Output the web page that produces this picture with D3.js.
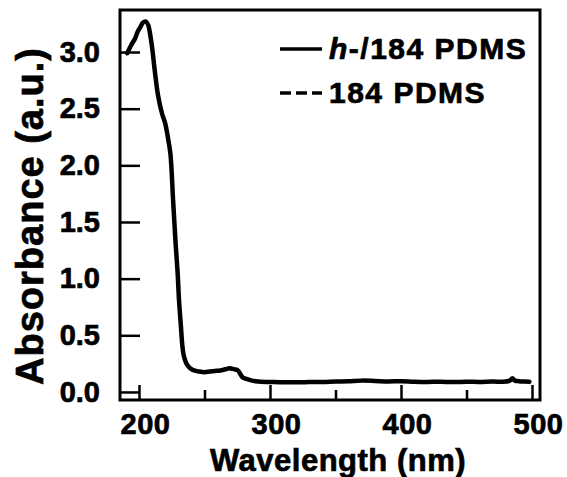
<!DOCTYPE html>
<html>
<head>
<meta charset="utf-8">
<script src="https://cdn.jsdelivr.net/npm/d3@7"></script>
<style>
html,body{margin:0;padding:0;background:#fff;}
svg{display:block;}
text{font-family:"Liberation Sans",Arial,Helvetica,sans-serif;font-weight:bold;fill:#000;stroke:#000;stroke-width:0.7px;}
</style>
</head>
<body>
<svg id="chart" width="567" height="477"></svg>
<script>
// Data (wavelength nm, absorbance a.u.)
const wavelength = [191,194,197,199,201,203,205,207,208,210,212,214.5,217.5,220,222,224,226,228,229.5,230.5,232,233,234,235.5,237,239,242,246,250,254,258,262,266,269,271,273,275.5,277,279,282,285,289,293,300,310,320,330,340,350,360,370,380,390,400,410,420,430,440,450,460,470,478,483,485,487,490,494,498];
const absorbance = [2.99,3.06,3.12,3.18,3.22,3.26,3.27,3.24,3.19,3.04,2.84,2.62,2.46,2.37,2.25,2.1,1.7,1.3,1.05,0.82,0.58,0.42,0.33,0.27,0.235,0.21,0.19,0.18,0.175,0.18,0.185,0.19,0.2,0.21,0.205,0.2,0.19,0.165,0.13,0.115,0.105,0.095,0.09,0.088,0.085,0.085,0.087,0.088,0.092,0.095,0.1,0.097,0.093,0.095,0.09,0.088,0.09,0.087,0.09,0.088,0.092,0.09,0.1,0.12,0.1,0.095,0.092,0.09];
const xMajorTicks = [200,300,400,500];
const xMinorTicks = [250,350,450];
const yTicks = [0,0.5,1.0,1.5,2.0,2.5,3.0];
const seriesNames = ["h-/184 PDMS","184 PDMS"];

const svg = d3.select("#chart");
const L=120,R=540,T=10,B=400;
const x = d3.scaleLinear().domain([185.5,506.1]).range([L,R]);
const y = d3.scaleLinear().domain([-0.071,3.371]).range([B,T]);

// x axis major
const gxM = svg.append("g").attr("transform",`translate(0,${B})`)
  .call(d3.axisBottom(x).tickValues(xMajorTicks).tickSize(-15).tickPadding(13).tickFormat(d3.format("d")));
gxM.select(".domain").remove();
gxM.selectAll("line").attr("stroke","#000").attr("stroke-width",2.5);
gxM.selectAll("text").attr("font-size",29).attr("dx",6).attr("fill","#000").attr("letter-spacing",0.5);
// x axis minor
const gxm = svg.append("g").attr("transform",`translate(0,${B})`)
  .call(d3.axisBottom(x).tickValues(xMinorTicks).tickSize(-10).tickFormat(""));
gxm.select(".domain").remove();
gxm.selectAll("line").attr("stroke","#000").attr("stroke-width",2.5);

// y axis
const gy = svg.append("g").attr("transform",`translate(${L},0)`)
  .call(d3.axisLeft(y).tickValues(yTicks).tickSize(-20).tickPadding(20).tickFormat(d3.format(".1f")));
gy.select(".domain").remove();
gy.selectAll("line").attr("stroke","#000").attr("stroke-width",2.5);
gy.selectAll("text").attr("font-size",29).attr("fill","#000");

// frame
svg.append("rect").attr("x",L).attr("y",T).attr("width",R-L).attr("height",B-T)
  .attr("fill","none").attr("stroke","#000").attr("stroke-width",3);

// curve
const line = d3.line().x((d,i)=>x(wavelength[i])).y(d=>y(d)).curve(d3.curveCatmullRom.alpha(0.5));
svg.append("path").datum(absorbance).attr("d",line)
  .attr("fill","none").attr("stroke","#000").attr("stroke-width",4.5).attr("stroke-linejoin","round").attr("stroke-linecap","round");

// legend
svg.append("line").attr("x1",280).attr("x2",322).attr("y1",49).attr("y2",49).attr("stroke","#000").attr("stroke-width",3.5);
const t1 = svg.append("text").attr("x",329).attr("y",59).attr("font-size",30).attr("letter-spacing",1.5);
t1.append("tspan").attr("font-style","italic").text("h");
t1.append("tspan").text("-/184 PDMS");
svg.append("line").attr("x1",280).attr("x2",322).attr("y1",93).attr("y2",93).attr("stroke","#000").attr("stroke-width",3.5).attr("stroke-dasharray","11,5");
svg.append("text").attr("x",329).attr("y",103).attr("font-size",30).attr("letter-spacing",1.5).text(seriesNames[1]);

// axis titles
svg.append("text").attr("x",338).attr("y",471).attr("text-anchor","middle").attr("font-size",31).attr("letter-spacing",0.5).text("Wavelength (nm)");
svg.append("text").attr("transform","translate(43,216) rotate(-90)").attr("text-anchor","middle").attr("font-size",38).attr("letter-spacing",1).text("Absorbance (a.u.)");
</script>
</body>
</html>
